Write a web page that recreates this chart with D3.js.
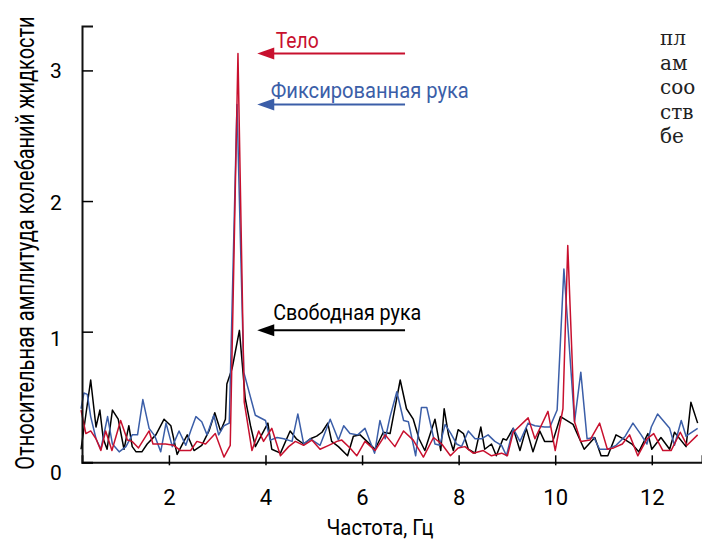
<!DOCTYPE html>
<html>
<head>
<meta charset="utf-8">
<script src="https://cdn.jsdelivr.net/npm/d3@7"></script>
<style>
  body { margin: 0; background: #fff; }
  svg text { font-family: Roboto, "Liberation Sans", sans-serif; }
</style>
</head>
<body>
<svg id="chart" width="702" height="540"></svg>
<script>
// tick values
var xTicks = [2, 4, 6, 8, 10, 12];
var yTicks = [0, 1, 2, 3];

// series names (annotations)
var seriesNames = ["Свободная рука", "Фиксированная рука", "Тело"];

// free hand (black)
var blackFreq = [0.18,0.38,0.49,0.57,0.64,0.72,0.83,0.95,1.07,1.17,1.24,1.32,1.44,1.55,1.73,1.90,2.04,2.17,2.38,2.52,2.68,2.83,2.95,3.07,3.17,3.20,3.31,3.46,3.58,3.69,3.79,3.92,4.05,4.13,4.31,4.51,4.64,4.79,4.93,5.06,5.17,5.29,5.37,5.51,5.70,5.82,5.96,6.10,6.27,6.44,6.58,6.79,6.92,7.06,7.18,7.30,7.51,7.63,7.70,7.79,7.89,7.99,8.10,8.20,8.34,8.46,8.54,8.68,8.78,8.92,8.99,9.13,9.27,9.40,9.54,9.68,9.78,9.95,10.11,10.37,10.60,10.82,10.95,11.09,11.26,11.46,11.59,11.73,11.92,12.00,12.19,12.37,12.47,12.71,12.81,12.95];
var blackAmp  = [0.10,0.63,0.27,0.40,0.18,0.10,0.40,0.33,0.10,0.28,0.12,0.08,0.08,0.14,0.21,0.33,0.28,0.06,0.21,0.09,0.13,0.24,0.38,0.24,0.33,0.60,0.72,1.01,0.49,0.28,0.12,0.21,0.30,0.10,0.07,0.24,0.18,0.14,0.18,0.20,0.23,0.30,0.16,0.12,0.05,0.20,0.21,0.16,0.10,0.23,0.22,0.63,0.41,0.33,0.18,0.09,0.33,0.09,0.41,0.21,0.09,0.25,0.22,0.10,0.07,0.27,0.10,0.14,0.05,0.18,0.17,0.26,0.09,0.26,0.08,0.24,0.16,0.16,0.35,0.29,0.10,0.19,0.05,0.05,0.21,0.17,0.14,0.08,0.22,0.10,0.19,0.10,0.23,0.12,0.46,0.30];

// fixed hand (blue)
var blueFreq = [0.18,0.24,0.31,0.38,0.49,0.59,0.73,0.83,0.97,1.11,1.24,1.35,1.46,1.59,1.71,1.83,1.94,2.07,2.21,2.35,2.45,2.56,2.68,2.79,2.93,3.03,3.14,3.25,3.41,3.55,3.79,4.00,4.10,4.24,4.38,4.55,4.67,4.79,4.93,5.13,5.34,5.51,5.62,5.75,5.91,6.06,6.26,6.37,6.48,6.58,6.72,6.86,6.96,7.11,7.23,7.34,7.51,7.61,7.72,7.84,7.96,8.06,8.20,8.34,8.47,8.61,8.75,8.89,8.99,9.13,9.27,9.44,9.58,9.78,9.89,10.04,10.18,10.40,10.53,10.66,10.80,10.92,11.09,11.26,11.45,11.61,11.78,11.90,11.99,12.12,12.37,12.47,12.61,12.71,12.95];
var blueAmp  = [0.41,0.53,0.52,0.35,0.18,0.10,0.35,0.14,0.08,0.12,0.21,0.21,0.48,0.26,0.20,0.08,0.30,0.12,0.24,0.13,0.24,0.35,0.31,0.21,0.36,0.21,0.28,0.30,2.74,0.69,0.36,0.32,0.17,0.19,0.18,0.16,0.37,0.14,0.18,0.13,0.33,0.17,0.28,0.22,0.21,0.26,0.07,0.32,0.18,0.35,0.54,0.32,0.31,0.05,0.42,0.42,0.14,0.13,0.29,0.22,0.14,0.12,0.24,0.18,0.18,0.21,0.16,0.13,0.05,0.26,0.16,0.30,0.28,0.27,0.27,0.40,1.48,0.31,0.69,0.18,0.19,0.10,0.10,0.13,0.20,0.30,0.21,0.14,0.27,0.37,0.26,0.13,0.32,0.20,0.26];

// body (red)
var redFreq = [0.18,0.28,0.38,0.49,0.59,0.69,0.82,1.00,1.14,1.24,1.37,1.59,1.67,1.93,2.10,2.24,2.45,2.58,2.76,2.96,3.14,3.27,3.43,3.56,3.72,3.86,3.96,4.13,4.31,4.48,4.62,4.79,4.96,5.13,5.31,5.48,5.58,5.75,5.89,6.06,6.27,6.48,6.68,6.86,7.06,7.27,7.48,7.65,7.83,7.99,8.13,8.30,8.51,8.68,8.89,9.01,9.13,9.44,9.58,9.85,10.00,10.16,10.26,10.40,10.53,10.72,10.92,11.08,11.21,11.39,11.54,11.71,11.90,12.04,12.23,12.40,12.59,12.73,12.95];
var redAmp  = [0.40,0.22,0.24,0.18,0.09,0.24,0.09,0.32,0.17,0.16,0.11,0.24,0.14,0.14,0.13,0.09,0.09,0.16,0.14,0.22,0.04,0.13,3.13,0.46,0.09,0.24,0.16,0.26,0.05,0.12,0.16,0.13,0.17,0.10,0.13,0.16,0.17,0.11,0.05,0.16,0.09,0.21,0.12,0.24,0.17,0.04,0.19,0.14,0.05,0.11,0.12,0.07,0.09,0.05,0.07,0.05,0.23,0.34,0.18,0.39,0.09,0.41,1.66,0.31,0.16,0.17,0.30,0.10,0.11,0.14,0.21,0.05,0.18,0.22,0.09,0.09,0.23,0.13,0.21];

// visible fragment of the body text at the right edge
var sideText = ["пл", "ам", "соо", "ств", "бе"];

var svg = d3.select("#chart");

var x = d3.scaleLinear().domain([0.2, 13.04]).range([82, 702]);
var y = d3.scaleLinear().domain([0, 3.34]).range([462.3, 26]);

var series = [
  {name: seriesNames[0], color: "#000000", f: blackFreq, a: blackAmp, dx: 16,   dy: -10, len: 148},
  {name: seriesNames[1], color: "#3b5ea8", f: blueFreq,  a: blueAmp,  dx: 13.5, dy: -6,  len: 198},
  {name: seriesNames[2], color: "#c8102e", f: redFreq,   a: redAmp,   dx: 18.5, dy: -5,  len: 43}
];

//-----------------------------------------------------------------------------------
// lines
//-----------------------------------------------------------------------------------
var line = d3.line()
  .x(function(d){ return x(d[0]); })
  .y(function(d){ return y(d[1]); });

series.forEach(function(s){
  var pts = s.f.map(function(f, i){ return [f, s.a[i]]; });
  svg.append("path")
    .datum(pts)
    .attr("fill", "none")
    .attr("stroke", s.color)
    .attr("stroke-width", 1.5)
    .attr("stroke-linejoin", "round")
    .attr("d", line);
});

//-----------------------------------------------------------------------------------
// axes
//-----------------------------------------------------------------------------------
var xAxis = svg.append("g")
  .attr("transform", "translate(0," + y(0) + ")")
  .call(d3.axisBottom(x).tickValues(xTicks).tickSizeOuter(0).tickSize(-7).tickPadding(0));
xAxis.selectAll(".tick line").attr("y1", 3).attr("stroke-width", 1.5);
xAxis.selectAll(".tick text").attr("y", 43).attr("dy", 0).style("font-size", "22px");

// label nudges as in the original (0 sits under the axis, 1 hangs below its tick)
var yLabelShift = {0: 10, 1: 6, 2: 1, 3: 0};
var yAxis = svg.append("g")
  .attr("transform", "translate(" + x.range()[0] + ",0)")
  .call(d3.axisLeft(y).tickValues(yTicks).tickSizeOuter(0).tickSize(-11).tickFormat(d3.format("d")));
yAxis.selectAll(".tick line").attr("stroke-width", 1.5);
yAxis.selectAll(".tick text")
  .attr("x", -26).attr("text-anchor", "middle")
  .attr("y", function(d){ return yLabelShift[d]; })
  .attr("dy", "0.36em")
  .style("font-size", "21px");

svg.selectAll(".domain").attr("stroke", "#111").attr("stroke-width", 2);

// axis titles
svg.append("text")
  .attr("x", 380).attr("y", 535)
  .attr("text-anchor", "middle")
  .attr("textLength", 107).attr("lengthAdjust", "spacingAndGlyphs")
  .style("font-size", "22px")
  .text("Частота, Гц");

// taller glyphs than Roboto gives, so stretch across the baseline
svg.append("text")
  .attr("transform", "translate(34,243) rotate(-90) scale(1,1.25)")
  .attr("text-anchor", "middle")
  .style("font-size", "20px")
  .text("Относительная амплитуда колебаний жидкости");

//-----------------------------------------------------------------------------------
// annotations: arrows point at each series peak
//-----------------------------------------------------------------------------------
series.forEach(function(s){
  var py = y(d3.max(s.a));
  var x0 = x(3.85) - 1, x1 = x(6.89);
  svg.append("line")
    .attr("x1", x0 + 12).attr("x2", x1)
    .attr("y1", py).attr("y2", py)
    .attr("stroke", s.color).attr("stroke-width", 2);
  svg.append("path")
    .attr("d", "M" + x0 + "," + py + "L" + (x0 + 17) + "," + (py - 6) + "L" + (x0 + 17) + "," + (py + 6) + "Z")
    .attr("fill", s.color);
  svg.append("text")
    .attr("x", x0 + s.dx).attr("y", py + s.dy)
    .attr("textLength", s.len).attr("lengthAdjust", "spacingAndGlyphs")
    .style("font-size", "22px")
    .attr("fill", s.color)
    .text(s.name);
});

// paragraph fragment on the right
svg.selectAll(".side")
  .data(sideText)
  .enter().append("text")
  .attr("class", "side")
  .attr("x", 660)
  .attr("y", function(d, i){ return 45 + i * 24.5; })
  .style("font-family", "'DejaVu Serif', 'Liberation Serif', serif")
  .style("font-size", "20px")
  .attr("fill", "#222")
  .text(function(d){ return d; });
</script>
</body>
</html>
